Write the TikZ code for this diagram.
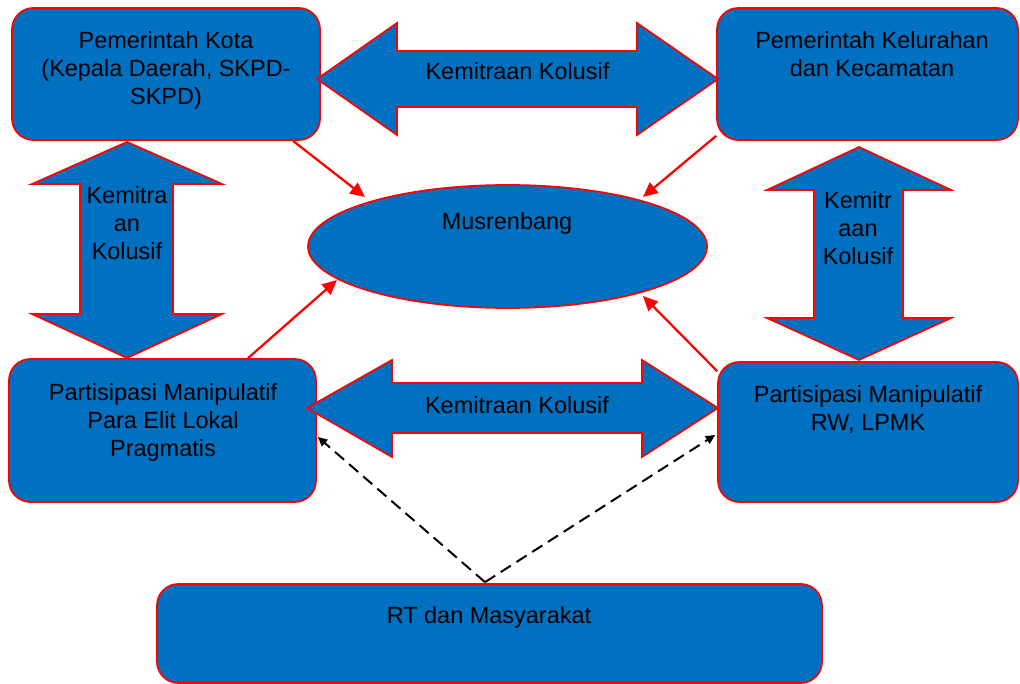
\documentclass[tikz,border=0pt]{standalone}
\usepackage{fontspec}
\setmainfont{Liberation Sans}
\usetikzlibrary{shapes.geometric,arrows.meta,calc}
\definecolor{fillblue}{HTML}{0070C0}
\begin{document}
\begin{tikzpicture}[x=0.75pt,y=-0.75pt,
  box/.style={draw=red, line width=1.3pt, fill=fillblue, rounded corners=16pt, inner sep=0pt},
  ellbox/.style={ellipse, draw=red, line width=1.3pt, fill=fillblue, inner sep=0pt},
  bigarrow/.style={draw=red, line width=1.3pt, fill=fillblue, line join=miter},
  lbl/.style={anchor=north, inner sep=0pt, align=center, font=\fontsize{17.6}{21}\selectfont, text=black},
  redarrow/.style={draw=red, line width=1.7pt, -{Triangle[length=11pt,width=10pt]}},
  dasharrow/.style={draw=black, line width=1.5pt, dash pattern=on 9pt off 5pt, -{Triangle[length=7pt,width=6.5pt]}}]
\useasboundingbox (0,0) rectangle (1020,684);

% boxes
\node[box, minimum width=231pt, minimum height=99pt] (b1) at (166,74) {};
\node[box, minimum width=225.75pt, minimum height=99pt] (b2) at (867.5,74) {};
\node[box, minimum width=230.25pt, minimum height=107.25pt] (b3) at (162.5,430.5) {};
\node[box, minimum width=225pt, minimum height=105pt] (b4) at (868,432) {};
\node[box, minimum width=498.75pt, minimum height=74.25pt] (rt) at (489.5,633.5) {};
\node[ellbox, minimum width=299.25pt, minimum height=92.25pt] (m) at (507.5,246.5) {};

% big double arrows
\draw[bigarrow] (317,79) -- (397,23) -- (397,51) -- (637,51) -- (637,23) -- (718,79)
  -- (637,135) -- (637,107) -- (397,107) -- (397,135) -- cycle;
\draw[bigarrow] (307,408) -- (392,360) -- (392,383) -- (642,383) -- (642,360) -- (718,408)
  -- (642,457) -- (642,433) -- (392,433) -- (392,457) -- cycle;
\draw[bigarrow] (127,142) -- (222,184) -- (173,184) -- (173,314) -- (222,314) -- (127,358)
  -- (32,314) -- (80,314) -- (80,184) -- (32,184) -- cycle;
\draw[bigarrow] (859,147) -- (951,190) -- (903,190) -- (903,318) -- (951,318) -- (859,360)
  -- (767,318) -- (814,318) -- (814,190) -- (767,190) -- cycle;

% connector end points
\coordinate (s1) at ($(b1.south)+(127,0)$);
\coordinate (e1) at ($(m.center)+(-142.5,-49.5)$);
\coordinate (s2) at ($(b2.south west)+(0,-5)$);
\coordinate (e2) at ($(m.center)+(135.5,-49.5)$);
\coordinate (s3) at ($(b3.north)+(85.5,0)$);
\coordinate (e3) at ($(m.center)+(-170.5,33.5)$);
\coordinate (s4) at ($(b4.north west)+(0,10)$);
\coordinate (e4) at ($(m.center)+(135.5,49.5)$);
\coordinate (apex) at ($(rt.north)+(-4.5,-1)$);
\coordinate (d3) at ($(b3.east)+(1,6.5)$);
\coordinate (d4) at ($(b4.west)+(-2,3)$);

% red connectors
\draw[redarrow] (s1) -- (e1);
\draw[redarrow] (s2) -- (e2);
\draw[redarrow] (s3) -- (e3);
\draw[redarrow] (s4) -- (e4);

% dashed connectors
\draw[dasharrow] (apex) -- (d3);
\draw[dasharrow] (apex) -- (d4);

% labels
\node[lbl] (t1) at (166,28.4) {\strut Pemerintah Kota\\(Kepala Daerah, SKPD-\\SKPD)};
\node[lbl] (t2) at (872,28.4) {\strut Pemerintah Kelurahan\\dan Kecamatan};
\node[lbl] (t3) at (163,380.4) {\strut Partisipasi Manipulatif\\Para Elit Lokal\\Pragmatis};
\node[lbl] (t4) at (868,382.4) {\strut Partisipasi Manipulatif\\RW, LPMK};
\node[lbl] (trt) at (489,603.4) {\strut RT dan Masyarakat};
\node[lbl] (tm) at (507,209.4) {\strut Musrenbang};
\node[lbl] (ta) at (517.5,59.4) {\strut Kemitraan Kolusif};
\node[lbl] (tb) at (517,393.4) {\strut Kemitraan Kolusif};
\node[lbl] (tl) at (127,183.4) {\strut Kemitra\\an\\Kolusif};
\node[lbl] (tr) at (858,188.4) {\strut Kemitr\\aan\\Kolusif};
\end{tikzpicture}
\end{document}
